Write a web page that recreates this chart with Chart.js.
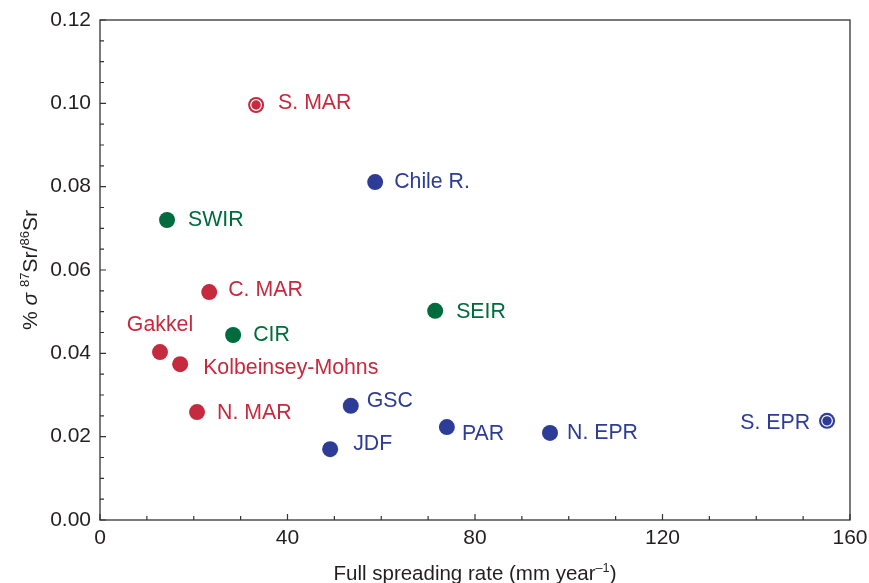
<!DOCTYPE html>
<html>
<head>
<meta charset="utf-8">
<script src="https://cdn.jsdelivr.net/npm/chart.js@4.4.0/dist/chart.umd.min.js"></script>
<style>
  html, body { margin: 0; padding: 0; background: #fff; }
  #wrap { width: 869px; height: 583px; }
</style>
</head>
<body>
<div id="wrap"><canvas id="srChart"></canvas></div>
<script>
// ridge segments, spreading rate (mm/yr) and Sr isotope variation
const ridges = ['S. MAR', 'Chile R.', 'SWIR', 'C. MAR', 'SEIR', 'CIR', 'Gakkel', 'Kolbeinsey-Mohns', 'N. MAR', 'GSC', 'JDF', 'PAR', 'N. EPR', 'S. EPR'];
const spreadingRate = [33.3, 58.7, 14.3, 23.3, 71.5, 28.4, 12.8, 17.1, 20.7, 53.5, 49.1, 74.0, 96.0, 155.1];
const srVariation = [0.0996, 0.0811, 0.0720, 0.0547, 0.0502, 0.0444, 0.0403, 0.0374, 0.0259, 0.0274, 0.0170, 0.0223, 0.0209, 0.0238];
const oceans = ['atl', 'pac', 'ind', 'atl', 'ind', 'ind', 'atl', 'atl', 'atl', 'pac', 'pac', 'pac', 'pac', 'pac'];
const ringed = ['S. MAR', 'S. EPR'];
const xTicks = [0, 40, 80, 120, 160];
const yTicks = [0, 0.02, 0.04, 0.06, 0.08, 0.10, 0.12];

const colors = { atl: '#c62a3e', ind: '#006b3c', pac: '#2d3c97' };
const font = "'Liberation Sans', Arial, Helvetica, sans-serif";
const ink = '#231f20';

// where each label sits relative to its dot
const labelPos = {
    'S. MAR': [22, -2, 'left'], 'Chile R.': [19, 0, 'left'], 'SWIR': [21, 0, 'left'],
    'C. MAR': [19, -2, 'left'], 'SEIR': [21, 1, 'left'], 'CIR': [20, 0, 'left'],
    'Gakkel': [0, -27, 'center'], 'Kolbeinsey-Mohns': [23, 4, 'left'], 'N. MAR': [20, 1, 'left'],
    'GSC': [16, -5, 'left'], 'JDF': [23, -5, 'left'], 'PAR': [15, 7, 'left'],
    'N. EPR': [17, 0, 'left'], 'S. EPR': [-17, 2, 'right']
};

function pointsFor(key) {
    const out = [];
    ridges.forEach((r, i) => {
        if (oceans[i] === key) out.push({ x: spreadingRate[i], y: srVariation[i], name: r });
    });
    return out;
}

const groupSets = ['atl', 'ind', 'pac'].map(k => ({
    label: k,
    data: pointsFor(k),
    backgroundColor: colors[k],
    borderWidth: 0,
    pointRadius: 8,
    pointHoverRadius: 8,
    order: 2
}));

const ringSet = {
    label: 'ring',
    data: ridges.map((r, i) => ({ x: spreadingRate[i], y: srVariation[i], c: colors[oceans[i]] }))
        .filter((p, i) => ringed.includes(ridges[i])),
    backgroundColor: ctx => ctx.raw ? ctx.raw.c : '#000',
    borderColor: '#fff',
    borderWidth: 1.2,
    pointRadius: 5.3,
    pointHoverRadius: 5.3,
    order: 1
};

function drawRich(ctx, parts, size) {
    let w = 0;
    parts.forEach(p => {
        ctx.font = (p.it ? 'italic ' : '') + (p.sup ? size * 0.62 : size) + 'px ' + font;
        w += ctx.measureText(p.t).width;
    });
    let x = -w / 2;
    parts.forEach(p => {
        ctx.font = (p.it ? 'italic ' : '') + (p.sup ? size * 0.62 : size) + 'px ' + font;
        ctx.fillText(p.t, x, p.sup ? -size * 0.38 : 0);
        x += ctx.measureText(p.t).width;
    });
}

const framePlugin = {
    id: 'frame',
    afterDraw(chart) {
        const { ctx, chartArea: a, scales } = chart;
        ctx.save();
        ctx.strokeStyle = '#333';
        ctx.lineWidth = 1.3;
        ctx.strokeRect(a.left, a.top, a.right - a.left, a.bottom - a.top);
        ctx.lineWidth = 1.2;
        ctx.beginPath();
        for (let v = 0; v <= 160; v += 10) {
            const px = scales.x.getPixelForValue(v);
            const len = v % 40 === 0 ? 6 : 4;
            ctx.moveTo(px, a.bottom);
            ctx.lineTo(px, a.bottom - len);
        }
        for (let k = 0; k <= 24; k++) {
            const py = scales.y.getPixelForValue(k * 0.005);
            const len = k % 4 === 0 ? 6 : 4;
            ctx.moveTo(a.left, py);
            ctx.lineTo(a.left + len, py);
        }
        ctx.stroke();

        // axis titles
        ctx.fillStyle = ink;
        ctx.textBaseline = 'alphabetic';
        ctx.textAlign = 'left';
        ctx.save();
        ctx.translate(475, 580);
        drawRich(ctx, [{ t: 'Full spreading rate (mm year' }, { t: '\u20131', sup: true }, { t: ')' }], 20.5);
        ctx.restore();
        ctx.save();
        ctx.translate(37, 270);
        ctx.rotate(-Math.PI / 2);
        drawRich(ctx, [{ t: '% ' }, { t: '\u03c3', it: true }, { t: ' ' }, { t: '87', sup: true }, { t: 'Sr/' }, { t: '86', sup: true }, { t: 'Sr' }], 21);
        ctx.restore();
        ctx.restore();
    },
    afterDatasetsDraw(chart) {
        const { ctx } = chart;
        ctx.save();
        ctx.font = '21.3px ' + font;
        ctx.textBaseline = 'middle';
        for (let d = 0; d < 3; d++) {
            const meta = chart.getDatasetMeta(d);
            const ds = chart.data.datasets[d];
            meta.data.forEach((el, i) => {
                const name = ds.data[i].name;
                const [dx, dy, align] = labelPos[name];
                ctx.fillStyle = ds.backgroundColor;
                ctx.textAlign = align;
                ctx.fillText(name, el.x + dx, el.y + dy);
            });
        }
        ctx.restore();
    }
};

new Chart(document.getElementById('srChart'), {
    type: 'scatter',
    data: { datasets: [...groupSets, ringSet] },
    options: {
        responsive: true,
        maintainAspectRatio: false,
        animation: false,
        layout: { padding: { top: 20, right: 19, left: 0, bottom: 0 } },
        plugins: { legend: { display: false }, tooltip: { enabled: false } },
        scales: {
            x: {
                type: 'linear', min: 0, max: 160,
                afterBuildTicks: s => { s.ticks = xTicks.map(v => ({ value: v })); },
                afterFit: s => { s.height = 63; s.paddingLeft = 0; s.paddingRight = 0; },
                grid: { display: false, drawTicks: false },
                border: { display: false },
                ticks: { color: ink, font: { family: font, size: 21 }, padding: 6, maxRotation: 0 }
            },
            y: {
                type: 'linear', min: 0, max: 0.12,
                afterBuildTicks: s => { s.ticks = yTicks.map(v => ({ value: v })); },
                afterFit: s => { s.width = 100; s.paddingTop = 0; s.paddingBottom = 0; },
                grid: { display: false, drawTicks: false },
                border: { display: false },
                ticks: { color: ink, font: { family: font, size: 21 }, padding: 9, callback: v => v.toFixed(2) }
            }
        }
    },
    plugins: [framePlugin]
});
</script>
</body>
</html>
